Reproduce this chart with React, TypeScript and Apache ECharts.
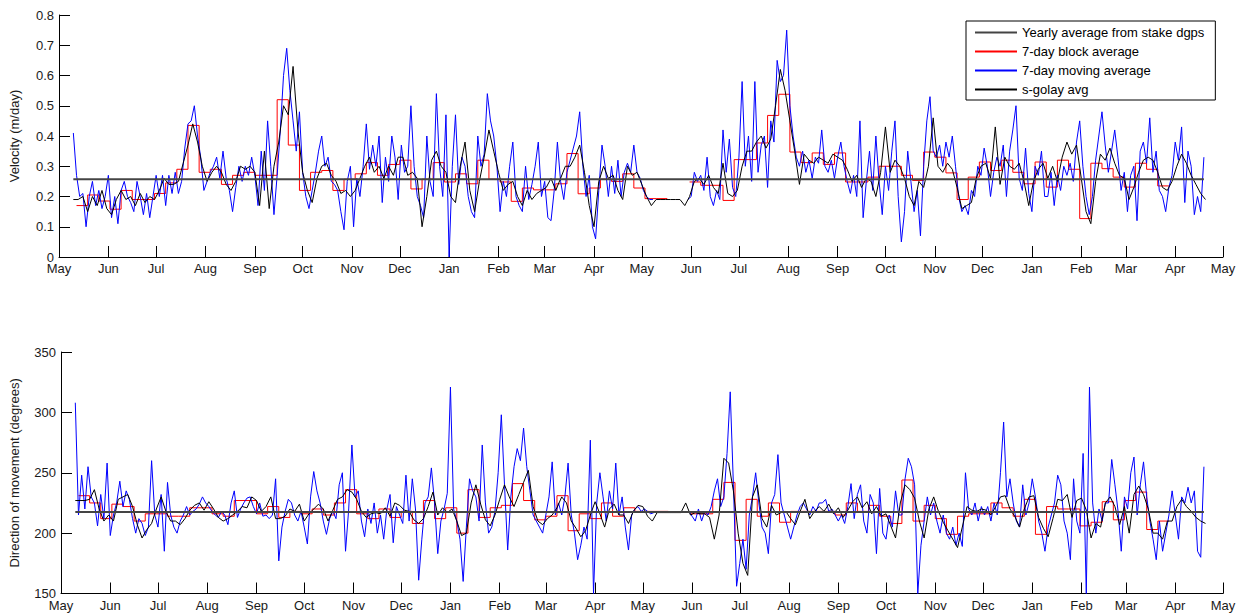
import React, { useEffect, useRef } from "react";
import * as echarts from "echarts";

// ---- time frame: day 0 = 1 May 2011, axis runs to 1 May 2013 ----
const AXIS_START = Date.UTC(2011, 4, 1);
const AXIS_END_DAY = 731;
const MONTH_NAMES = ["Jan", "Feb", "Mar", "Apr", "May", "Jun", "Jul", "Aug", "Sep", "Oct", "Nov", "Dec"];

// ---- legend names ----
const NAME_YEARLY = "Yearly average from stake dgps";
const NAME_BLOCK = "7-day block average";
const NAME_MOVING = "7-day moving average";
const NAME_SGOLAY = "s-golay avg";

// ---- yearly averages (line from first to last observation day) ----
const yearlySpan = [9, 719];
const velYearly = 0.257;
const dirYearly = 217.5;

// ---- 7-day block averages: blocks start at day 11, every 7 days ----
const BLOCK_START = 11;
const BLOCK_LEN = 7;
const velBlockA = [ // blocks 0..51
  0.17, 0.205, 0.185, 0.158, 0.22, 0.19, 0.19, 0.21, 0.245, 0.29,
  0.435, 0.28, 0.29, 0.24, 0.27, 0.28, 0.27, 0.27, 0.52, 0.37,
  0.22, 0.28, 0.286, 0.22, 0.257, 0.275, 0.312, 0.27, 0.306, 0.32,
  0.225, 0.257, 0.312, 0.248, 0.275, 0.242, 0.32, 0.257, 0.248, 0.184,
  0.228, 0.222, 0.222, 0.242, 0.342, 0.209, 0.228, 0.257, 0.25, 0.275,
  0.228, 0.193,
];
const velBlockB = [ // blocks 55..97
  0.248, 0.237, 0.237, 0.187, 0.322, 0.322, 0.377, 0.468, 0.538, 0.347,
  0.312, 0.344, 0.306, 0.344, 0.248, 0.248, 0.264, 0.3, 0.3, 0.27,
  0.253, 0.347, 0.33, 0.278, 0.19, 0.264, 0.314, 0.286, 0.32, 0.28,
  0.242, 0.314, 0.231, 0.32, 0.29, 0.127, 0.31, 0.292, 0.264, 0.231,
  0.31, 0.29, 0.235,
];
const dirBlockA = [
  231, 225, 212, 224, 222, 210, 216, 216, 214, 214,
  221, 221, 216, 214, 227, 227, 216, 222, 213, 218,
  216, 220, 215, 225, 236, 216, 212, 220, 213, 218,
  208, 227, 212, 221, 200, 236, 213, 221, 223, 241,
  227, 211, 214, 231, 202, 216, 212, 225, 214, 221,
  218, 218,
];
const dirBlockB = [
  216, 216, 228, 242, 194, 228, 214, 225, 209, 218,
  218, 218, 218, 215, 225, 218, 223, 214, 208, 244,
  210, 223, 212, 199, 214, 216, 216, 225, 221, 214,
  228, 199, 222, 220, 220, 206, 209, 226, 211, 227,
  234, 203, 210,
];
const blockBStartIndex = 55;

// ---- 7-day moving average, every 2nd day ----
const velMovingA = [ // from day 9
  0.41, 0.27, 0.2, 0.21, 0.1, 0.2, 0.25, 0.17, 0.22, 0.16,
  0.2, 0.27, 0.13, 0.2, 0.11, 0.22, 0.25, 0.2, 0.18, 0.15,
  0.25, 0.2, 0.14, 0.21, 0.13, 0.2, 0.27, 0.2, 0.27, 0.17,
  0.27, 0.21, 0.28, 0.21, 0.25, 0.36, 0.44, 0.45, 0.5, 0.4,
  0.33, 0.22, 0.25, 0.28, 0.3, 0.33, 0.26, 0.35, 0.26, 0.22,
  0.15, 0.23, 0.3, 0.25, 0.3, 0.27, 0.33, 0.27, 0.17, 0.35,
  0.22, 0.45, 0.3, 0.14, 0.27, 0.42, 0.6, 0.69, 0.55, 0.45,
  0.35, 0.48, 0.28, 0.2, 0.16, 0.22, 0.28, 0.35, 0.4, 0.3,
  0.33,
];
const velMovingB = [ // from day 171
  0.25, 0.24, 0.22, 0.15, 0.09, 0.25, 0.3, 0.1, 0.26, 0.2,
  0.3, 0.44, 0.29, 0.37, 0.3, 0.4, 0.18, 0.33, 0.25, 0.4,
  0.33, 0.19, 0.37, 0.28, 0.3, 0.5, 0.3, 0.2, 0.17, 0.13,
  0.4, 0.25, 0.2, 0.54, 0.3, 0.2, 0.47, 0.0, 0.3, 0.47,
  0.24, 0.33, 0.3, 0.2, 0.15, 0.13, 0.4, 0.3, 0.34, 0.54,
  0.45, 0.4, 0.3, 0.15, 0.25, 0.2, 0.3, 0.38, 0.2, 0.17,
  0.15, 0.3, 0.19, 0.24, 0.3, 0.38, 0.2, 0.25, 0.13, 0.12,
  0.22, 0.38, 0.25, 0.19, 0.28, 0.32, 0.36, 0.4, 0.48, 0.3,
  0.2, 0.27, 0.1, 0.06, 0.22, 0.37, 0.3, 0.2, 0.3, 0.21,
  0.32, 0.2, 0.28, 0.31, 0.28, 0.37, 0.28, 0.26, 0.22, 0.2,
  0.19, 0.19,
];
const velMovingC = [ // from day 395
  0.19, 0.2, 0.28, 0.25, 0.27, 0.22, 0.33, 0.2, 0.17, 0.22,
  0.19, 0.42, 0.28, 0.39, 0.23, 0.2, 0.33, 0.58, 0.3, 0.4,
  0.25, 0.58, 0.28, 0.37, 0.4, 0.23, 0.45, 0.38, 0.65, 0.58,
  0.6, 0.75, 0.5, 0.4, 0.33, 0.3, 0.35, 0.28, 0.32, 0.26,
  0.33, 0.31, 0.42, 0.3, 0.28, 0.32, 0.26, 0.33, 0.38, 0.3,
  0.25, 0.21, 0.27, 0.2, 0.45, 0.13, 0.25, 0.35, 0.22, 0.4,
  0.25, 0.14, 0.3, 0.22, 0.35, 0.45, 0.2, 0.05, 0.15, 0.35,
  0.25, 0.15, 0.22, 0.07, 0.3, 0.45, 0.53, 0.35, 0.33, 0.37,
  0.3, 0.38, 0.33, 0.4,
];
const velMovingD = [ // from day 563
  0.3, 0.2, 0.15, 0.17, 0.14, 0.22, 0.2, 0.3, 0.27, 0.36,
  0.3, 0.2, 0.28, 0.33, 0.3, 0.37, 0.2, 0.35, 0.42, 0.5,
  0.26, 0.22, 0.36, 0.21, 0.15, 0.3, 0.27, 0.35, 0.2, 0.2,
  0.28, 0.17, 0.27, 0.22, 0.3, 0.27, 0.31, 0.25, 0.38, 0.45,
  0.3, 0.2, 0.14, 0.2, 0.32, 0.4, 0.48, 0.37, 0.28, 0.35,
  0.42, 0.33, 0.22, 0.28, 0.15, 0.27, 0.3, 0.12, 0.35, 0.38,
  0.31, 0.46, 0.28, 0.35, 0.22, 0.2, 0.15, 0.23, 0.27, 0.38,
  0.32, 0.43, 0.18, 0.35, 0.3, 0.14, 0.2, 0.15, 0.33,
];
const dirMovingA = [
  308, 215, 248, 220, 255, 230, 225, 206, 232, 212,
  258, 198, 215, 225, 243, 222, 235, 228, 212, 200,
  212, 208, 198, 205, 260, 215, 205, 232, 185, 242,
  215, 205, 200, 210, 215, 222, 215, 218, 220, 224,
  230, 225, 222, 218, 215, 213, 218, 215, 207, 225,
  235, 213, 220, 225, 229, 230, 222, 216, 225, 214,
  215, 212, 215, 245, 177, 205, 218, 228, 225, 215,
  210, 218, 205, 191, 230, 251, 235, 225, 210, 199,
  212,
];
const dirMovingB = [
  218, 212, 240, 250, 185, 220, 273, 230, 235, 210,
  197, 220, 208, 225, 200, 215, 195, 220, 232, 192,
  222, 215, 208, 248, 210, 245, 220, 161, 195, 225,
  230, 254, 225, 183, 210, 220, 233, 321, 220, 210,
  195, 160, 205, 245, 235, 230, 210, 273, 225, 200,
  205, 218, 250, 298, 240, 186, 230, 255, 270, 260,
  287, 255, 235, 215, 210, 205, 200, 215, 230, 259,
  215, 225, 215, 230, 258, 215, 200, 178, 190, 205,
  195, 277, 150, 225, 250, 230, 210, 235, 220, 258,
  215, 230, 205, 186, 215, 220, 222, 218, 220, 218,
  216, 217,
];
const dirMovingC = [
  218, 214, 210, 220, 210, 218, 215, 222, 235, 245,
  222, 230, 266, 317, 240, 156, 175, 195, 170, 215,
  230, 250, 225, 205, 200, 183, 225, 232, 265, 225,
  215, 205, 195, 205, 215, 222, 225, 220, 215, 222,
  218, 225, 225, 228, 218, 220, 215, 210, 215, 208,
  222, 241, 212, 232, 240, 210, 200, 232, 225, 183,
  237, 200, 195, 215, 205, 235, 215, 215, 245, 262,
  255, 240, 150, 190, 210, 230, 215, 225, 210, 200,
  215, 200, 195, 205,
];
const dirMovingD = [
  190, 200, 189, 250, 220, 215, 225, 210, 222, 215,
  222, 210, 225, 215, 250, 292, 230, 245, 225, 210,
  205, 240, 215, 225, 245, 230, 210, 200, 185, 205,
  215, 225, 248, 240, 210, 200, 178, 245, 210, 200,
  266, 150, 321, 225, 200, 220, 210, 225, 225, 261,
  240, 218, 185, 230, 220, 250, 263, 215, 240, 259,
  230, 210, 195, 178, 210, 185, 200, 215, 235, 215,
  195, 230, 225, 238, 225, 235, 185, 180, 255,
];
const movingStarts = [9, 171, 395, 563];
const movingGapDay = 384;

// ---- s-golay average, every 3rd day ----
const velSgolayA = [ // from day 9
  0.19, 0.19, 0.2, 0.15, 0.2, 0.17, 0.22, 0.16, 0.14, 0.19,
  0.22, 0.19, 0.2, 0.17, 0.21, 0.18, 0.2, 0.19, 0.22, 0.26,
  0.24, 0.24, 0.25, 0.31, 0.37, 0.44, 0.38, 0.3, 0.25, 0.28,
  0.3, 0.28, 0.24, 0.22, 0.25, 0.3, 0.29, 0.3, 0.28, 0.17,
  0.35, 0.16, 0.3, 0.38, 0.5, 0.47, 0.63, 0.42, 0.28, 0.22,
  0.18, 0.26, 0.3, 0.31,
];
const velSgolayB = [ // from day 171
  0.27, 0.25, 0.21, 0.22, 0.2, 0.22, 0.26, 0.3, 0.33, 0.28,
  0.3, 0.26, 0.3, 0.27, 0.33, 0.33, 0.27, 0.28, 0.26, 0.1,
  0.2, 0.32, 0.35, 0.3, 0.28, 0.2, 0.18, 0.3, 0.38, 0.22,
  0.15, 0.25, 0.33, 0.42, 0.35, 0.28, 0.22, 0.24, 0.25, 0.2,
  0.17, 0.22, 0.19, 0.21, 0.22, 0.23, 0.26, 0.22, 0.26, 0.3,
  0.3, 0.33, 0.37, 0.28, 0.17, 0.1, 0.25, 0.3, 0.26, 0.27,
  0.22, 0.19, 0.3, 0.27, 0.28, 0.24, 0.2, 0.17,
];
const velSgolayC = [ // from day 375
  0.19, 0.19, 0.19, 0.19, 0.19, 0.19, 0.17, 0.2, 0.25, 0.26,
  0.24, 0.27, 0.23, 0.21, 0.31, 0.21, 0.2, 0.22, 0.3, 0.35,
  0.35, 0.38, 0.4, 0.36, 0.39, 0.5, 0.62, 0.55, 0.45, 0.35,
  0.24, 0.34, 0.32, 0.31, 0.33, 0.32, 0.31, 0.34, 0.33, 0.32,
  0.29, 0.25, 0.27, 0.23, 0.26, 0.25, 0.2, 0.28, 0.43, 0.28,
  0.32, 0.3, 0.26, 0.2, 0.17, 0.25, 0.23, 0.3, 0.46, 0.3,
  0.28, 0.31, 0.29,
];
const velSgolayD = [ // from day 564
  0.23, 0.16, 0.17, 0.18, 0.26, 0.3, 0.31, 0.26, 0.43, 0.24,
  0.33, 0.3, 0.29, 0.31, 0.25, 0.17, 0.25, 0.29, 0.31, 0.26,
  0.3, 0.25, 0.33, 0.38, 0.34, 0.37, 0.26, 0.15, 0.11, 0.25,
  0.34, 0.32, 0.36, 0.31, 0.27, 0.26, 0.19, 0.23, 0.28, 0.32,
  0.33, 0.32, 0.28, 0.23, 0.22, 0.25, 0.3, 0.34, 0.31, 0.27,
  0.24, 0.21, 0.19,
];
const dirSgolayA = [
  227, 227, 227, 228, 236, 220, 210, 215, 210, 228,
  230, 232, 222, 207, 196, 203, 208, 220, 230, 218,
  210, 210, 207, 212, 219, 223, 225, 219, 226, 220,
  213, 210, 212, 215, 218, 222, 221, 230, 227, 218,
  222, 230, 212, 212, 214, 220, 218, 224, 210, 216,
  220, 224, 220, 210,
];
const dirSgolayB = [
  219, 228, 230, 236, 234, 228, 218, 213, 216, 217,
  216, 221, 214, 225, 223, 219, 218, 211, 208, 212,
  222, 234, 215, 221, 217, 220, 210, 198, 200, 225,
  240, 224, 211, 206, 215, 228, 240, 230, 222, 232,
  242, 252, 222, 210, 207, 212, 215, 221, 230, 225,
  210, 204, 197, 202, 215, 226, 216, 205, 220, 224,
  215, 215, 208, 218, 223, 222, 214, 210,
];
const dirSgolayC = [
  217, 217, 217, 217, 217, 217, 225, 215, 217, 216,
  216, 213, 195, 215, 262, 258, 235, 200, 175, 165,
  230, 240, 212, 205, 223, 215, 217, 218, 212, 207,
  218, 228, 212, 218, 222, 218, 224, 216, 221, 213,
  219, 226, 230, 221, 226, 216, 222, 214, 216, 206,
  196, 225, 240, 236, 229, 210, 196, 220, 230, 218,
  209, 202, 195,
];
const dirSgolayD = [
  188, 205, 222, 219, 218, 220, 219, 215, 222, 230,
  231, 220, 214, 205, 220, 230, 231, 213, 204, 197,
  212, 228, 227, 232, 213, 227, 229, 219, 196, 208,
  205, 225, 230, 222, 207, 222, 200, 232, 239, 232,
  220, 200, 200, 195, 210, 210, 222, 228, 222, 218,
  213, 210, 208,
];
const sgolayStarts = [9, 171, 375, 564];

// ---- tick labels ----
const velTicks = { min: 0, max: 0.8, interval: 0.1 };
const dirTicks = { min: 150, max: 350, interval: 50 };

// month-start days for the x axis
const monthTickDays: number[] = [];
const monthTickLabels: Record<number, string> = {};
for (let i = 0; i <= 24; i++) {
  const y = 2011 + Math.floor((4 + i) / 12);
  const m = (4 + i) % 12;
  const d = Math.round((Date.UTC(y, m, 1) - AXIS_START) / 86400000);
  monthTickDays.push(d);
  monthTickLabels[d] = MONTH_NAMES[m];
}

function run(start: number, step: number, vals: number[]) {
  return vals.map((v, i) => [start + i * step, v]);
}
function movingSeries(chunks: number[][]) {
  return [
    ...run(movingStarts[0], 2, chunks[0]),
    ...run(movingStarts[1], 2, chunks[1]),
    [movingGapDay, null],
    ...run(movingStarts[2], 2, chunks[2]),
    ...run(movingStarts[3], 2, chunks[3]),
  ];
}
function sgolaySeries(chunks: number[][]) {
  return chunks.flatMap((c, i) => run(sgolayStarts[i], 3, c));
}
function blockSeries(a: number[], b: number[]) {
  const part = (k0: number, vals: number[]) => {
    const pts = vals.map((v, i) => [BLOCK_START + BLOCK_LEN * (k0 + i), v]);
    pts.push([BLOCK_START + BLOCK_LEN * (k0 + vals.length), vals[vals.length - 1]]);
    return pts;
  };
  const pa = part(0, a);
  const gap = [BLOCK_START + BLOCK_LEN * (a.length + 1), null];
  return [...pa, gap, ...part(blockBStartIndex, b)];
}

const FONT = "'Liberation Sans', Arial, Helvetica, sans-serif";
const textStyle = { color: "#1a1a1a", fontFamily: FONT, fontSize: 13 };

export default function App() {
  const ref = useRef<HTMLDivElement>(null);
  useEffect(() => {
    if (!ref.current) return;
    const chart = echarts.init(ref.current, undefined, { renderer: "svg" });

    const xAxisFor = (gi: number) => ({
      type: "value",
      gridIndex: gi,
      min: 0,
      max: AXIS_END_DAY,
      axisLine: { lineStyle: { color: "#000", width: 1 } },
      axisTick: { inside: true, length: 11, customValues: monthTickDays, lineStyle: { color: "#000" } },
      axisLabel: {
        customValues: monthTickDays,
        formatter: (v: number) => monthTickLabels[Math.round(v)] ?? "",
        margin: 5,
        ...textStyle,
      },
      splitLine: { show: false },
    });
    const yAxisFor = (gi: number, t: any, name: string, gap: number, fmt: (v: number) => string) => ({
      type: "value",
      gridIndex: gi,
      min: t.min,
      max: t.max,
      interval: t.interval,
      name,
      nameLocation: "middle",
      nameGap: gap,
      nameTextStyle: { ...textStyle },
      axisLine: { show: true, lineStyle: { color: "#000", width: 1 } },
      axisTick: { show: true, inside: true, length: 11, lineStyle: { color: "#000" } },
      axisLabel: { margin: 5, formatter: fmt, ...textStyle },
      splitLine: { show: false },
    });

    const line = (name: string, gi: number, data: any[], color: string, width: number, z: number, step?: string) => ({
      type: "line",
      name,
      xAxisIndex: gi,
      yAxisIndex: gi,
      data,
      showSymbol: false,
      symbol: "none",
      step: step ?? false,
      connectNulls: false,
      silent: true,
      z,
      lineStyle: { color, width },
      itemStyle: { color },
    });

    chart.setOption({
      animation: false,
      grid: [
        { left: 57, top: 15, width: 1166, height: 242 },
        { left: 57, top: 352, width: 1166, height: 241.5 },
      ],
      xAxis: [xAxisFor(0), xAxisFor(1)],
      yAxis: [
        yAxisFor(0, velTicks, "Velocity (m/day)", 38, (v) => String(Math.round(v * 10) / 10)),
        yAxisFor(1, dirTicks, "Direction of movement (degrees)", 40, (v) => String(Math.round(v))),
      ],
      legend: {
        data: [NAME_YEARLY, NAME_BLOCK, NAME_MOVING, NAME_SGOLAY],
        orient: "vertical",
        left: 966,
        top: 21,
        itemWidth: 42,
        itemHeight: 14,
        itemGap: 6,
        padding: [5, 11, 4, 8],
        borderColor: "#000",
        borderWidth: 1,
        backgroundColor: "#fff",
        selectedMode: false,
        itemStyle: { opacity: 0 },
        textStyle: { ...textStyle, color: "#000" },
      },
      series: [
        line(NAME_BLOCK, 0, blockSeries(velBlockA, velBlockB), "#ff0000", 1, 3, "end"),
        line(NAME_MOVING, 0, movingSeries([velMovingA, velMovingB, velMovingC, velMovingD]), "#0000ff", 1, 4),
        line(NAME_SGOLAY, 0, sgolaySeries([velSgolayA, velSgolayB, velSgolayC, velSgolayD]), "#000000", 1, 5),
        line(NAME_YEARLY, 0, yearlySpan.map((d) => [d, velYearly]), "#444444", 2, 6),
        line(NAME_BLOCK, 1, blockSeries(dirBlockA, dirBlockB), "#ff0000", 1, 3, "end"),
        line(NAME_MOVING, 1, movingSeries([dirMovingA, dirMovingB, dirMovingC, dirMovingD]), "#0000ff", 1, 4),
        line(NAME_SGOLAY, 1, sgolaySeries([dirSgolayA, dirSgolayB, dirSgolayC, dirSgolayD]), "#000000", 1, 5),
        line(NAME_YEARLY, 1, yearlySpan.map((d) => [d, dirYearly]), "#444444", 2, 6),
      ],
    });
    return () => chart.dispose();
  }, []);
  return (
    <div
      ref={ref}
      style={{ position: "fixed", left: 0, top: 0, width: 1244, height: 615, background: "#fff" }}
    />
  );
}
